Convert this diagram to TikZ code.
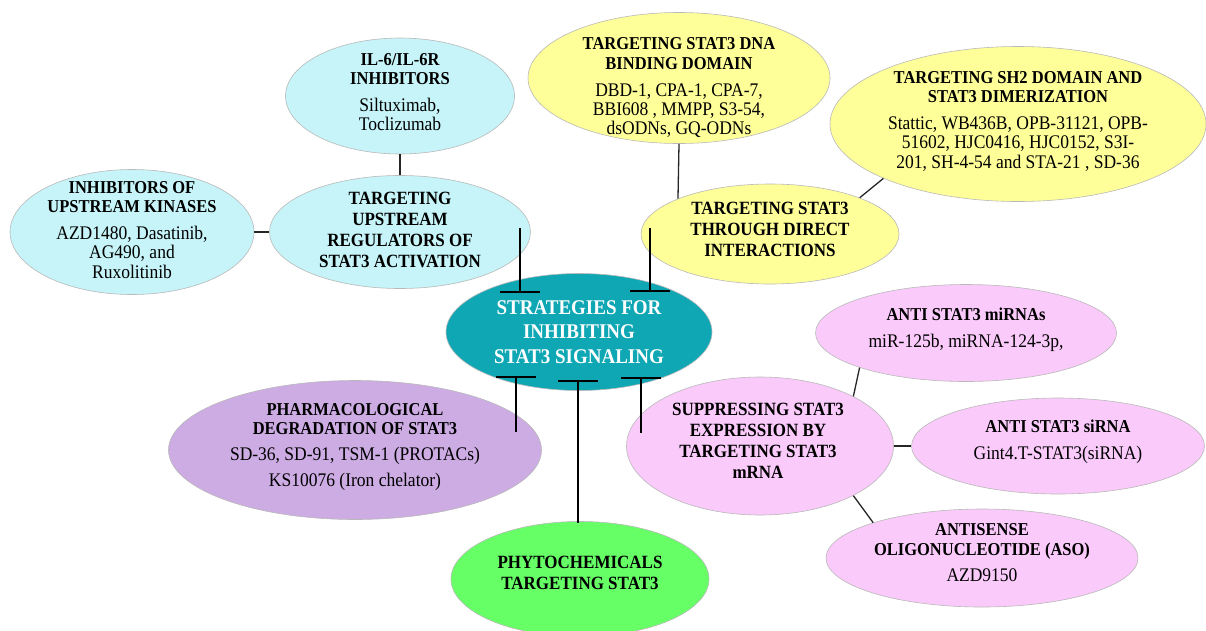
\documentclass[tikz,border=0pt]{standalone}
\usepackage{fontspec}
\setmainfont{Liberation Serif}
\usepackage{xcolor}
\usepackage{tikz}
\usetikzlibrary{shapes,arrows.meta,positioning}
\definecolor{hubteal}{RGB}{16, 167, 181}
\definecolor{upcyan}{RGB}{198, 244, 248}
\definecolor{directyellow}{RGB}{255, 255, 153}
\definecolor{degpurple}{RGB}{205, 172, 228}
\definecolor{rnapink}{RGB}{250, 202, 250}
\definecolor{phytogreen}{RGB}{102, 255, 102}
\newcommand{\hd}[1]{{\fontsize{16.5}{17}\selectfont\bfseries #1}}

\begin{document}
\begin{tikzpicture}[x=1pt, y=-1pt,
    bub/.style={ellipse, draw=gray!55, line width=0.6pt, inner sep=0pt},
    txt/.style={align=center, inner sep=0pt, yscale=1.1, transform shape, font=\fontsize{17.5}{17.7}\selectfont},
    headtxt/.style={align=center, inner sep=0pt, yscale=1.1, transform shape, font=\fontsize{17}{19.1}\selectfont\bfseries},
    link/.style={line width=1.3pt, draw=black!85},
    inhib/.style={line width=2.2pt}]
        \useasboundingbox (0,0) rectangle (1206,630);

        % Upstream regulators branch
        \node[bub, fill=upcyan, minimum width=229pt, minimum height=116pt] (il6) at (400,96) {};
        \node[txt] (il6t) at (400,92) {\hd{IL-6/IL-6R}\\\hd{INHIBITORS}\\[6.5pt]Siltuximab,\\Toclizumab};
        \node[bub, fill=upcyan, minimum width=244pt, minimum height=125pt] (kin) at (132,232) {};
        \node[txt] (kint) at (132,230) {\hd{INHIBITORS OF}\\\hd{UPSTREAM KINASES}\\[6.5pt]AZD1480, Dasatinib,\\AG490, and\\Ruxolitinib};
        \node[bub, fill=upcyan, minimum width=261pt, minimum height=113pt] (upreg) at (400,232) {};
        \node[headtxt] (upregt) at (400,230) {TARGETING\\UPSTREAM\\REGULATORS OF\\STAT3 ACTIVATION};
        \draw[link] (il6.south) -- (upreg.north);
        \draw[link] (kin.east) -- (upreg.west);

        % Direct interactions branch
        \node[bub, fill=directyellow, minimum width=302pt, minimum height=131pt] (dna) at (679,78) {};
        \node[txt] (dnat) at (679,88) {\hd{TARGETING STAT3 DNA}\\\hd{BINDING DOMAIN}\\[6.5pt]DBD-1, CPA-1, CPA-7,\\BBI608 , MMPP, S3-54,\\dsODNs, GQ-ODNs};
        \node[bub, fill=directyellow, minimum width=376pt, minimum height=155pt] (sh2) at (1018,124) {};
        \node[txt] (sh2t) at (1018,121) {\hd{TARGETING SH2 DOMAIN AND}\\\hd{STAT3 DIMERIZATION}\\[6.5pt]Stattic, WB436B, OPB-31121, OPB-\\51602, HJC0416, HJC0152, S3I-\\201, SH-4-54 and STA-21 , SD-36};
        \node[bub, fill=directyellow, minimum width=258pt, minimum height=100pt] (direct) at (770,234) {};
        \node[headtxt] (directt) at (770,229) {TARGETING STAT3\\THROUGH DIRECT\\INTERACTIONS};
        \draw[link] (dna.south) -- (direct.159);
        \draw[link] (direct.22) -- (sh2.202);

        % Central node
        \node[bub, fill=hubteal, minimum width=266pt, minimum height=117pt] (hub) at (579,332) {};
        \node[align=center, inner sep=0pt, yscale=1.1, transform shape, text=white, font=\fontsize{19}{22.3}\selectfont\bfseries] (hubt) at (579,332) {STRATEGIES FOR\\INHIBITING\\STAT3 SIGNALING};

        % Degradation and phytochemicals
        \node[bub, fill=degpurple, minimum width=373pt, minimum height=139pt] (deg) at (355,450) {};
        \node[txt] (degt) at (355,447) {\hd{PHARMACOLOGICAL}\\\hd{DEGRADATION OF STAT3}\\[6pt]SD-36, SD-91, TSM-1 (PROTACs)\\[6pt]KS10076 (Iron chelator)};
        \node[bub, fill=phytogreen, minimum width=258pt, minimum height=115pt] (phyto) at (580,579) {};
        \node[headtxt] (phytot) at (580,573) {PHYTOCHEMICALS\\TARGETING STAT3};

        % mRNA branch
        \node[bub, fill=rnapink, minimum width=267pt, minimum height=138pt] (supp) at (760,446) {};
        \node[headtxt] (suppt) at (758,441) {SUPPRESSING STAT3\\EXPRESSION BY\\TARGETING STAT3\\mRNA};
        \node[bub, fill=rnapink, minimum width=301pt, minimum height=97pt] (mirna) at (966,333) {};
        \node[txt] (mirnat) at (966,330) {\hd{ANTI STAT3 miRNAs}\\[6.5pt]miR-125b, miRNA-124-3p,};
        \node[bub, fill=rnapink, minimum width=293pt, minimum height=96pt] (sirna) at (1058,446) {};
        \node[txt] (sirnat) at (1058,442) {\hd{ANTI STAT3 siRNA}\\[6.5pt]Gint4.T-STAT3(siRNA)};
        \node[bub, fill=rnapink, minimum width=312pt, minimum height=98pt] (aso) at (982,558) {};
        \node[txt] (asot) at (982,553) {\hd{ANTISENSE}\\\hd{OLIGONUCLEOTIDE (ASO)}\\[6.5pt]AZD9150};
        \draw[link] (supp.28) -- (mirna.198);
        \draw[link] (supp.east) -- (sirna.west);
        \draw[link] (supp.-28) -- (aso.162);

        % Inhibition bars
        \coordinate (upin) at (520,228);
        \coordinate (upbar) at (520,293);
        \coordinate (dirin) at (650,228);
        \coordinate (dirbar) at (650,292);
        \coordinate (degbar) at (516,376);
        \coordinate (degin) at (516,432);
        \coordinate (phybar) at (578,380);
        \coordinate (phyin) at (578,523);
        \coordinate (suppbar) at (641,377);
        \coordinate (suppin) at (641,433);
        \draw[inhib, -{Bar[width=40pt]}] (upin) -- (upbar);
        \draw[inhib, -{Bar[width=40pt]}] (dirin) -- (dirbar);
        \draw[inhib, {Bar[width=40pt]}-] (degbar) -- (degin);
        \draw[inhib, {Bar[width=40pt]}-] (phybar) -- (phyin);
        \draw[inhib, {Bar[width=40pt]}-] (suppbar) -- (suppin);
    \end{tikzpicture}
\end{document}
